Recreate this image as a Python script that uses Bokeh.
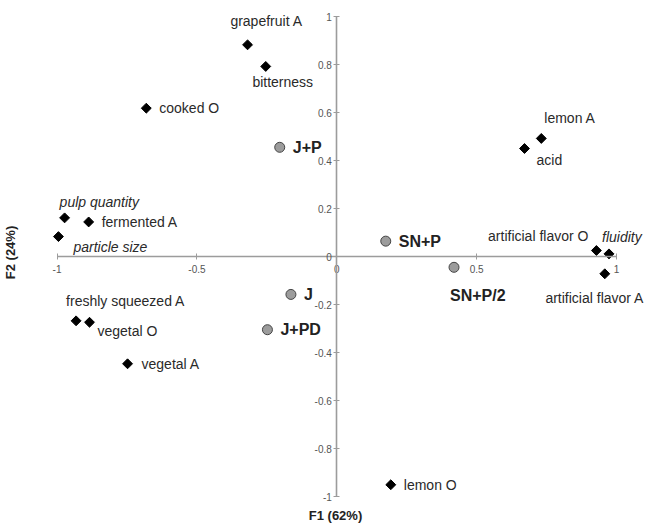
import numpy as np
from bokeh.plotting import figure
from bokeh.models import ColumnDataSource, FixedTicker, Title
from bokeh.core.properties import value
from bokeh.embed import file_html
from bokeh.resources import INLINE

# ---- data ----
attr_names = ["grapefruit A", "bitterness", "cooked O", "pulp quantity", "fermented A",
              "particle size", "lemon A", "acid", "artificial flavor O", "fluidity",
              "artificial flavor A", "lemon O", "freshly squeezed A", "vegetal O", "vegetal A"]
attr_f1 = [-0.319, -0.254, -0.681, -0.973, -0.887, -0.995, 0.731, 0.671, 0.928, 0.973,
           0.958, 0.193, -0.932, -0.884, -0.748]
attr_f2 = [0.882, 0.792, 0.618, 0.161, 0.144, 0.083, 0.492, 0.450, 0.025, 0.011,
           -0.072, -0.951, -0.268, -0.274, -0.447]

sample_names = ["J+P", "SN+P", "SN+P/2", "J", "J+PD"]
sample_f1 = [-0.204, 0.175, 0.419, -0.164, -0.248]
sample_f2 = [0.455, 0.064, -0.045, -0.158, -0.305]

x_ticks = [-1, -0.5, 0, 0.5, 1]
y_ticks = [-1, -0.8, -0.6, -0.4, -0.2, 0, 0.2, 0.4, 0.6, 0.8, 1]

# ---- label placement (screen pixel offsets, styles) ----
attr_align = ["center", "center", "left", "left", "left", "left", "left", "left", "right",
              "left", "center", "left", "left", "left", "left"]
attr_dx = [19, 17, 13, -5, 13, 15, 3, 12, -8, -7, -10, 13, -10, 8, 14]
attr_dy = [-24, 16, 0, -16, 0, 10, -20, 11, -15, -17, 24, 0, -20, 9, 0]
attr_style = ["normal", "normal", "normal", "italic", "normal", "italic", "normal", "normal",
              "normal", "italic", "normal", "normal", "normal", "normal", "normal"]

samp_align = ["left", "left", "left", "left", "left"]
samp_dx = [13, 13, -4, 13, 13]
samp_dy = [0, 0, 28, 0, 0]

attr_src = ColumnDataSource(dict(x=attr_f1, y=attr_f2, name=attr_names, align=attr_align,
                                 dx=attr_dx, dy=attr_dy, style=attr_style))
samp_src = ColumnDataSource(dict(x=sample_f1, y=sample_f2, name=sample_names,
                                 align=samp_align, dx=samp_dx, dy=samp_dy))

p = figure(width=653, height=524, x_range=(-1.1414, 1.1321), y_range=(-1.0333, 1.0667),
           output_backend="svg", toolbar_location=None,
           min_border_left=0, min_border_bottom=20, min_border_top=0, min_border_right=0)
p.outline_line_color = None
p.xgrid.visible = False
p.ygrid.visible = False

FONT = "Liberation Sans"
axis_col = "#9c9c9c"
for ax, ticks in ((p.xaxis[0], x_ticks), (p.yaxis[0], y_ticks)):
    ax.fixed_location = 0
    ax.bounds = (-1, 1)
    ax.ticker = FixedTicker(ticks=ticks)
    ax.major_label_overrides = {t: f"{t:g}" for t in ticks}
    ax.axis_line_color = axis_col
    ax.axis_line_width = 1.6
    ax.major_tick_line_color = axis_col
    ax.major_tick_line_width = 1
    ax.major_tick_in = 3
    ax.major_tick_out = 3
    ax.minor_tick_line_color = None
    ax.major_label_text_font = FONT
    ax.major_label_text_font_size = "10px"
    ax.major_label_text_color = "#555555"
p.xaxis[0].major_label_standoff = 5
p.yaxis[0].major_label_standoff = 2

p.add_layout(Title(text="F1 (62%)", align="center", text_font=FONT, text_font_size="13px",
                   text_font_style="bold", text_color="#222222", standoff=2), "below")
p.add_layout(Title(text="F2 (24%)", align="center", text_font=FONT, text_font_size="13px",
                   text_font_style="bold", text_color="#222222", standoff=0), "left")

p.scatter("x", "y", source=attr_src, marker="square", angle=np.pi / 4, size=7,
          fill_color="black", line_color="black")
p.scatter("x", "y", source=samp_src, marker="circle", size=10,
          fill_color="#9c9c9c", line_color="#444444", line_width=1)

p.text("x", "y", text="name", source=attr_src, x_offset="dx", y_offset="dy",
       text_align="align", text_baseline="middle", text_font=value(FONT),
       text_font_size="14px", text_font_style="style", text_color="#2a2a2a")
p.text("x", "y", text="name", source=samp_src, x_offset="dx", y_offset="dy",
       text_align="align", text_baseline="middle", text_font=value(FONT),
       text_font_size="16px", text_font_style="bold", text_color="#222222")

open("out.html", "w").write(file_html(p, INLINE))
